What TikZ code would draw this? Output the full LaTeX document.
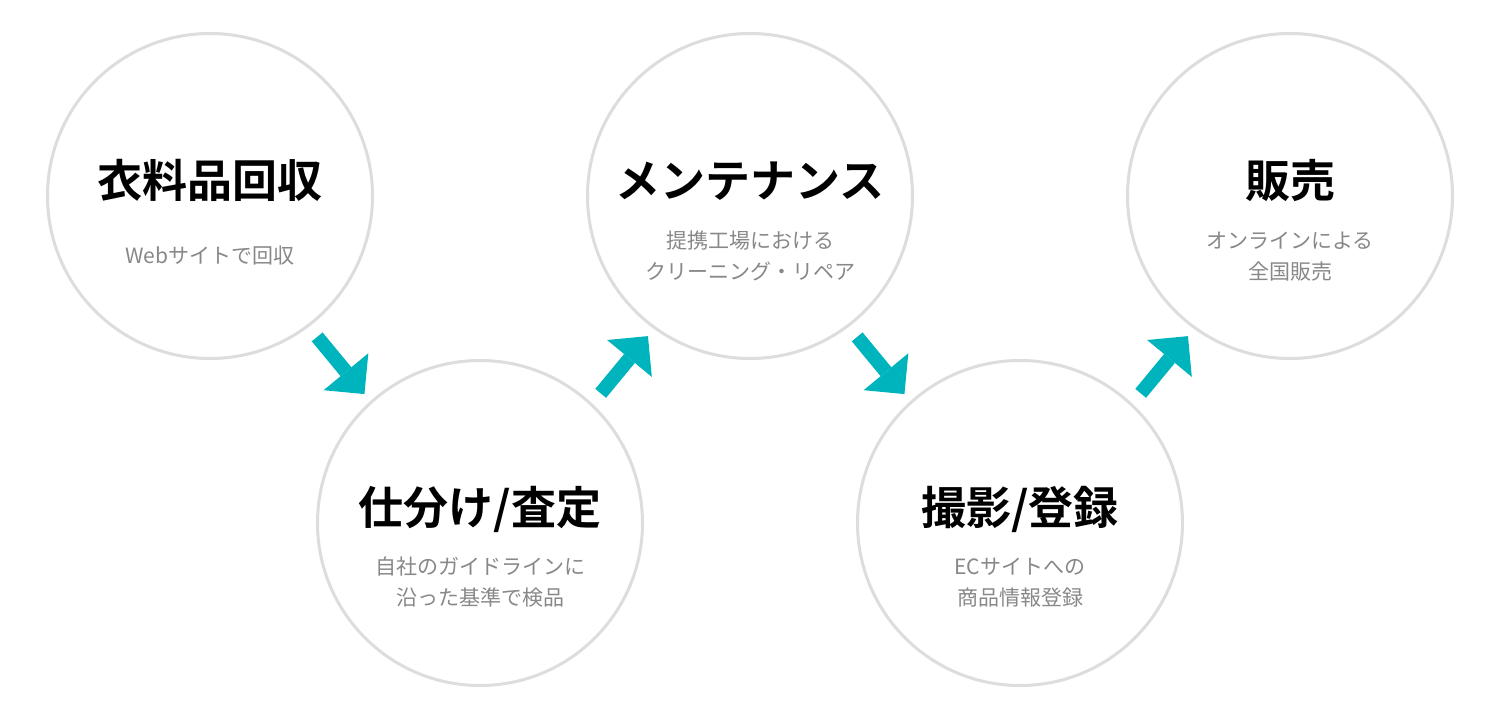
\documentclass[tikz,border=0pt]{standalone}
\usepackage{fontspec}
\setmainfont{Noto Sans CJK JP}[BoldFont={Noto Sans CJK JP Bold}]
\usetikzlibrary{arrows.meta,calc}
\definecolor{ringc}{HTML}{DDDDDD}
\definecolor{flowteal}{HTML}{00B4BE}
\definecolor{subgray}{HTML}{888888}
\begin{document}
\begin{tikzpicture}[x=1pt,y=-1pt,
  ring/.style={circle, draw=ringc, line width=3pt, minimum size=325pt, inner sep=0pt},
  ttl/.style={font=\fontsize{45}{54}\selectfont\bfseries, anchor=base, inner sep=0pt},
  sub/.style={font=\fontsize{21}{31}\selectfont, text=subgray, anchor=base, inner sep=0pt},
  flow/.style={draw=flowteal, line width=14pt, -{Triangle[width=58pt,length=29pt,line width=0pt]}}]
\useasboundingbox[fill=white] (0,0) rectangle (1500,720);

\node[ring] (c1) at (210,196) {};
\node[ring] (c2) at (480,523) {};
\node[ring] (c3) at (750,196) {};
\node[ring] (c4) at (1020,523) {};
\node[ring] (c5) at (1290,196) {};

\node[ttl] (t1) at (210,197) {衣料品回収};
\node[sub] (s1) at (210,263) {Webサイトで回収};

\node[ttl] (t2) at (480,524) {仕分け/査定};
\node[sub] (s2a) at (480,574) {自社のガイドラインに};
\node[sub] (s2b) at (480,605) {沿った基準で検品};

\node[ttl] (t3) at (750,197) {メンテナンス};
\node[sub] (s3a) at (750,248) {提携工場における};
\node[sub] (s3b) at (750,279) {クリーニング・リペア};

\node[ttl] (t4) at (1020,524) {撮影/登録};
\node[sub] (s4a) at (1020,574) {ECサイトへの};
\node[sub] (s4b) at (1020,605) {商品情報登録};

\node[ttl] (t5) at (1290,197) {販売};
\node[sub] (s5a) at (1290,248) {オンラインによる};
\node[sub] (s5b) at (1290,279) {全国販売};

\draw[flow] ([shift={(-5.4,4.5)}]$(c1)!0.417!(c2)$) -- ([shift={(-5.4,4.5)}]$(c1)!0.592!(c2)$);
\draw[flow] ([shift={(8.1,6.7)}]$(c2)!0.417!(c3)$) -- ([shift={(8.1,6.7)}]$(c2)!0.592!(c3)$);
\draw[flow] ([shift={(-5.4,4.5)}]$(c3)!0.417!(c4)$) -- ([shift={(-5.4,4.5)}]$(c3)!0.592!(c4)$);
\draw[flow] ([shift={(8.1,6.7)}]$(c4)!0.417!(c5)$) -- ([shift={(8.1,6.7)}]$(c4)!0.592!(c5)$);
\end{tikzpicture}
\end{document}
